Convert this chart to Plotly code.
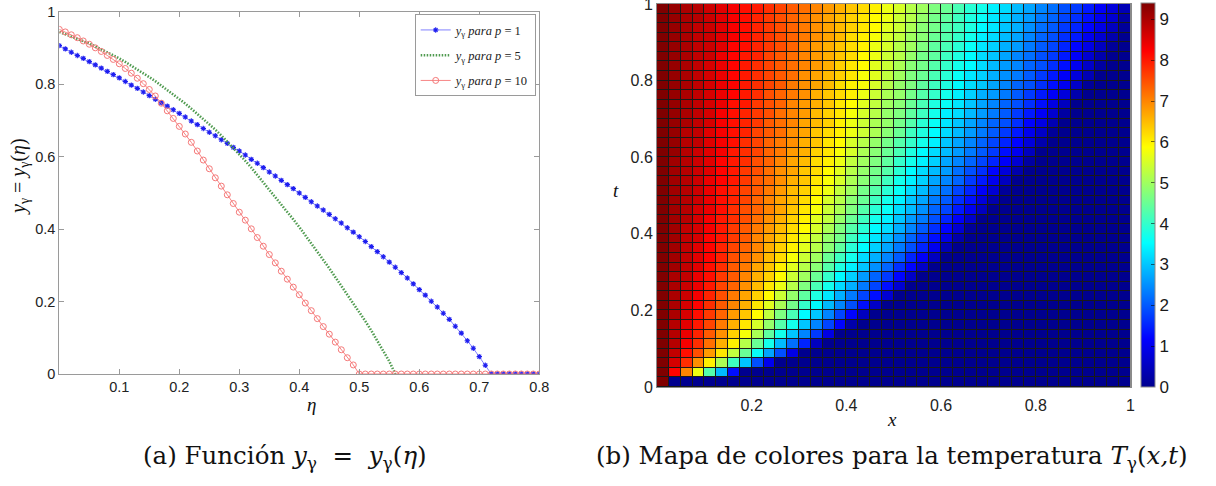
import plotly.graph_objects as go

# ---------------- data: panel (a) ----------------
eta = [0.00, 0.01, 0.02, 0.03, 0.04, 0.05, 0.06, 0.07, 0.08, 0.09,
       0.10, 0.11, 0.12, 0.13, 0.14, 0.15, 0.16, 0.17, 0.18, 0.19,
       0.20, 0.21, 0.22, 0.23, 0.24, 0.25, 0.26, 0.27, 0.28, 0.29,
       0.30, 0.31, 0.32, 0.33, 0.34, 0.35, 0.36, 0.37, 0.38, 0.39,
       0.40, 0.41, 0.42, 0.43, 0.44, 0.45, 0.46, 0.47, 0.48, 0.49,
       0.50, 0.51, 0.52, 0.53, 0.54, 0.55, 0.56, 0.57, 0.58, 0.59,
       0.60, 0.61, 0.62, 0.63, 0.64, 0.65, 0.66, 0.67, 0.68, 0.69,
       0.70, 0.71, 0.72, 0.73, 0.74, 0.75, 0.76, 0.77, 0.78, 0.79, 0.80]

y_p1 = [0.907, 0.898, 0.889, 0.880, 0.872, 0.863, 0.854, 0.845, 0.836, 0.827,
        0.818, 0.808, 0.798, 0.789, 0.779, 0.769, 0.759, 0.749, 0.740, 0.730,
        0.720, 0.710, 0.699, 0.689, 0.678, 0.668, 0.658, 0.647, 0.637, 0.626,
        0.616, 0.605, 0.593, 0.582, 0.570, 0.558, 0.547, 0.535, 0.523, 0.512,
        0.500, 0.488, 0.476, 0.464, 0.453, 0.441, 0.429, 0.417, 0.404, 0.392,
        0.379, 0.366, 0.352, 0.338, 0.324, 0.309, 0.295, 0.280, 0.265, 0.249,
        0.233, 0.218, 0.201, 0.185, 0.168, 0.151, 0.132, 0.113, 0.092, 0.071,
        0.048, 0.024, 0, 0, 0, 0, 0, 0, 0, 0, 0]

y_p5 = [0.945, 0.939, 0.933, 0.927, 0.920, 0.913, 0.905, 0.897, 0.889, 0.881,
        0.872, 0.862, 0.852, 0.842, 0.831, 0.820, 0.809, 0.797, 0.785, 0.773,
        0.760, 0.747, 0.733, 0.719, 0.705, 0.690, 0.675, 0.659, 0.642, 0.625,
        0.608, 0.589, 0.570, 0.550, 0.530, 0.510, 0.490, 0.469, 0.448, 0.427,
        0.406, 0.384, 0.361, 0.338, 0.315, 0.292, 0.268, 0.244, 0.220, 0.196,
        0.172, 0.146, 0.120, 0.092, 0.064, 0.035, 0]

y_p10 = [0.952, 0.945, 0.937, 0.929, 0.920, 0.911, 0.901, 0.891, 0.880, 0.869,
         0.857, 0.844, 0.831, 0.817, 0.802, 0.786, 0.768, 0.748, 0.727, 0.706,
         0.684, 0.663, 0.640, 0.616, 0.591, 0.567, 0.542, 0.519, 0.495, 0.471,
         0.447, 0.425, 0.401, 0.377, 0.353, 0.330, 0.307, 0.284, 0.262, 0.240,
         0.219, 0.196, 0.175, 0.153, 0.131, 0.110, 0.088, 0.067, 0.045, 0.025,
         0, 0, 0, 0, 0, 0, 0, 0, 0, 0,
         0, 0, 0, 0, 0, 0, 0, 0, 0, 0,
         0, 0, 0, 0, 0, 0, 0, 0, 0, 0, 0]

series_names = ["<i>y</i><sub>γ</sub> <i>para p</i> = 1",
                "<i>y</i><sub>γ</sub> <i>para p</i> = 5",
                "<i>y</i><sub>γ</sub> <i>para p</i> = 10"]

xticks_a = [0.1, 0.2, 0.3, 0.4, 0.5, 0.6, 0.7, 0.8]
yticks_a = [0, 0.2, 0.4, 0.6, 0.8, 1]

# ---------------- data: panel (b) ----------------
# temperature per grid row (t from bottom), columns x from left; cells not listed are 0
T_rows = [
    [9.4],
    [9.4, 8.2, 7.0, 5.7, 4.3, 2.9, 1.3],
    [9.4, 8.6, 7.8, 6.9, 6.0, 5.1, 4.1, 3.0, 1.9, 1.0],
    [9.4, 8.8, 8.1, 7.5, 6.8, 6.1, 5.3, 4.5, 3.6, 2.7, 1.9, 0.9],
    [9.4, 8.9, 8.3, 7.8, 7.2, 6.6, 6.0, 5.2, 4.5, 3.7, 2.9, 2.2, 1.5, 0.5],
    [9.4, 8.9, 8.4, 7.9, 7.4, 6.9, 6.3, 5.8, 5.1, 4.4, 3.7, 3.0, 2.4, 1.7, 0.9],
    [9.4, 8.9, 8.5, 8.0, 7.6, 7.1, 6.6, 6.1, 5.5, 4.9, 4.3, 3.7, 3.0, 2.4, 1.8, 1.2, 0.3],
    [9.4, 9.0, 8.6, 8.1, 7.7, 7.3, 6.8, 6.4, 5.9, 5.3, 4.7, 4.2, 3.5, 3.0, 2.4, 1.8, 1.2, 0.5],
    [9.4, 9.0, 8.6, 8.2, 7.8, 7.4, 7.0, 6.6, 6.1, 5.6, 5.1, 4.6, 4.0, 3.5, 2.9, 2.4, 1.9, 1.3, 0.6],
    [9.4, 9.0, 8.7, 8.3, 7.9, 7.5, 7.1, 6.7, 6.3, 5.9, 5.4, 4.9, 4.4, 3.8, 3.3, 2.8, 2.3, 1.8, 1.3, 0.7],
    [9.4, 9.0, 8.7, 8.4, 8.0, 7.6, 7.3, 6.9, 6.5, 6.1, 5.7, 5.2, 4.7, 4.2, 3.7, 3.2, 2.8, 2.3, 1.8, 1.3, 0.7],
    [9.4, 9.0, 8.8, 8.4, 8.1, 7.7, 7.4, 7.0, 6.6, 6.3, 5.9, 5.4, 5.0, 4.5, 4.0, 3.5, 3.1, 2.6, 2.1, 1.7, 1.2, 0.6],
    [9.4, 9.1, 8.8, 8.5, 8.1, 7.8, 7.4, 7.1, 6.7, 6.4, 6.0, 5.6, 5.2, 4.8, 4.3, 3.8, 3.4, 3.0, 2.5, 2.1, 1.6, 1.2, 0.6],
    [9.4, 9.1, 8.8, 8.5, 8.2, 7.9, 7.5, 7.2, 6.9, 6.5, 6.2, 5.8, 5.4, 5.0, 4.5, 4.1, 3.7, 3.2, 2.8, 2.4, 2.0, 1.5, 1.1, 0.5],
    [9.4, 9.1, 8.8, 8.5, 8.2, 7.9, 7.6, 7.3, 7.0, 6.6, 6.3, 6.0, 5.6, 5.2, 4.8, 4.4, 3.9, 3.5, 3.1, 2.7, 2.3, 1.9, 1.5, 1.0, 0.4],
    [9.4, 9.1, 8.8, 8.6, 8.2, 8.0, 7.7, 7.4, 7.0, 6.7, 6.4, 6.1, 5.7, 5.3, 4.9, 4.6, 4.1, 3.7, 3.3, 2.9, 2.5, 2.1, 1.7, 1.3, 0.9, 0.3],
    [9.4, 9.1, 8.8, 8.6, 8.3, 8.0, 7.7, 7.4, 7.1, 6.8, 6.5, 6.2, 5.9, 5.5, 5.1, 4.7, 4.3, 3.9, 3.5, 3.2, 2.8, 2.4, 2.0, 1.6, 1.2, 0.7, 0.1],
    [9.4, 9.1, 8.9, 8.6, 8.3, 8.0, 7.8, 7.5, 7.2, 6.9, 6.6, 6.3, 6.0, 5.6, 5.3, 4.9, 4.5, 4.1, 3.7, 3.4, 3.0, 2.6, 2.3, 1.9, 1.5, 1.1, 0.6],
    [9.4, 9.1, 8.9, 8.6, 8.4, 8.1, 7.8, 7.5, 7.3, 7.0, 6.7, 6.4, 6.1, 5.8, 5.4, 5.1, 4.7, 4.3, 3.9, 3.6, 3.2, 2.9, 2.5, 2.1, 1.8, 1.4, 1.0, 0.5],
    [9.4, 9.1, 8.9, 8.7, 8.4, 8.1, 7.9, 7.6, 7.3, 7.0, 6.7, 6.5, 6.2, 5.9, 5.5, 5.2, 4.8, 4.5, 4.1, 3.7, 3.4, 3.0, 2.7, 2.3, 2.0, 1.6, 1.3, 0.8, 0.3],
    [9.4, 9.1, 8.9, 8.7, 8.4, 8.1, 7.9, 7.6, 7.4, 7.1, 6.8, 6.5, 6.3, 6.0, 5.7, 5.3, 5.0, 4.6, 4.3, 3.9, 3.6, 3.2, 2.9, 2.5, 2.2, 1.8, 1.5, 1.1, 0.7, 0.1],
    [9.4, 9.1, 8.9, 8.7, 8.4, 8.2, 8.0, 7.7, 7.4, 7.2, 6.9, 6.6, 6.4, 6.1, 5.8, 5.5, 5.1, 4.8, 4.5, 4.1, 3.7, 3.4, 3.1, 2.7, 2.4, 2.1, 1.7, 1.4, 1.0, 0.5],
    [9.4, 9.1, 8.9, 8.7, 8.5, 8.2, 8.0, 7.7, 7.5, 7.2, 6.9, 6.7, 6.4, 6.2, 5.9, 5.6, 5.2, 4.9, 4.6, 4.3, 3.9, 3.5, 3.2, 2.9, 2.6, 2.2, 1.9, 1.6, 1.2, 0.8, 0.3],
    [9.4, 9.1, 8.9, 8.7, 8.5, 8.2, 8.0, 7.8, 7.5, 7.3, 7.0, 6.7, 6.5, 6.2, 6.0, 5.7, 5.3, 5.0, 4.7, 4.4, 4.0, 3.7, 3.4, 3.1, 2.7, 2.4, 2.1, 1.8, 1.5, 1.1, 0.7, 0.2],
    [9.4, 9.2, 8.9, 8.7, 8.5, 8.3, 8.0, 7.8, 7.6, 7.3, 7.1, 6.8, 6.6, 6.3, 6.1, 5.8, 5.5, 5.1, 4.8, 4.5, 4.2, 3.8, 3.5, 3.2, 2.9, 2.6, 2.3, 2.0, 1.7, 1.3, 1.0, 0.5],
    [9.4, 9.2, 8.9, 8.8, 8.5, 8.3, 8.1, 7.8, 7.6, 7.3, 7.1, 6.9, 6.6, 6.4, 6.1, 5.9, 5.5, 5.2, 4.9, 4.6, 4.3, 4.0, 3.7, 3.4, 3.0, 2.7, 2.4, 2.1, 1.8, 1.5, 1.2, 0.8, 0.3],
    [9.4, 9.2, 8.9, 8.8, 8.5, 8.3, 8.1, 7.9, 7.6, 7.4, 7.2, 6.9, 6.7, 6.4, 6.2, 6.0, 5.7, 5.4, 5.1, 4.8, 4.5, 4.1, 3.8, 3.5, 3.2, 2.9, 2.6, 2.3, 2.0, 1.7, 1.4, 1.0, 0.6, 0.1],
    [9.4, 9.2, 9.0, 8.8, 8.6, 8.3, 8.1, 7.9, 7.7, 7.4, 7.2, 7.0, 6.7, 6.5, 6.3, 6.0, 5.7, 5.4, 5.1, 4.9, 4.6, 4.3, 3.9, 3.6, 3.3, 3.0, 2.7, 2.4, 2.1, 1.9, 1.6, 1.2, 0.9, 0.4],
    [9.4, 9.2, 9.0, 8.8, 8.6, 8.3, 8.1, 7.9, 7.7, 7.5, 7.2, 7.0, 6.8, 6.5, 6.3, 6.1, 5.8, 5.5, 5.2, 4.9, 4.7, 4.4, 4.1, 3.7, 3.4, 3.2, 2.9, 2.6, 2.3, 2.0, 1.7, 1.4, 1.1, 0.7, 0.2],
    [9.4, 9.2, 9.0, 8.8, 8.6, 8.4, 8.1, 8.0, 7.7, 7.5, 7.3, 7.0, 6.8, 6.6, 6.4, 6.1, 5.9, 5.6, 5.3, 5.0, 4.8, 4.5, 4.2, 3.8, 3.6, 3.3, 3.0, 2.7, 2.4, 2.1, 1.9, 1.6, 1.3, 0.9, 0.5],
    [9.4, 9.2, 9.0, 8.8, 8.6, 8.4, 8.2, 8.0, 7.8, 7.5, 7.3, 7.1, 6.9, 6.6, 6.4, 6.2, 6.0, 5.7, 5.4, 5.1, 4.9, 4.6, 4.3, 4.0, 3.7, 3.4, 3.1, 2.8, 2.6, 2.3, 2.0, 1.7, 1.4, 1.1, 0.8, 0.3],
    [9.4, 9.2, 9.0, 8.8, 8.6, 8.4, 8.2, 8.0, 7.8, 7.6, 7.4, 7.1, 6.9, 6.7, 6.5, 6.2, 6.0, 5.8, 5.5, 5.2, 4.9, 4.7, 4.4, 4.1, 3.8, 3.5, 3.2, 3.0, 2.7, 2.4, 2.1, 1.9, 1.6, 1.3, 1.0, 0.6, 0.1],
    [9.4, 9.2, 9.0, 8.8, 8.6, 8.4, 8.2, 8.0, 7.8, 7.6, 7.4, 7.2, 6.9, 6.7, 6.5, 6.3, 6.1, 5.8, 5.6, 5.3, 5.0, 4.7, 4.5, 4.2, 3.9, 3.6, 3.3, 3.1, 2.8, 2.5, 2.3, 2.0, 1.7, 1.4, 1.1, 0.8, 0.4],
    [9.4, 9.2, 9.0, 8.8, 8.6, 8.4, 8.2, 8.0, 7.8, 7.6, 7.4, 7.2, 7.0, 6.8, 6.6, 6.3, 6.1, 5.9, 5.6, 5.4, 5.1, 4.8, 4.6, 4.3, 4.0, 3.7, 3.5, 3.2, 2.9, 2.6, 2.4, 2.1, 1.9, 1.6, 1.3, 1.0, 0.6, 0.2],
    [9.4, 9.2, 9.0, 8.8, 8.7, 8.4, 8.2, 8.0, 7.9, 7.6, 7.4, 7.2, 7.0, 6.8, 6.6, 6.4, 6.2, 5.9, 5.7, 5.4, 5.2, 4.9, 4.6, 4.4, 4.1, 3.8, 3.5, 3.2, 3.0, 2.7, 2.4, 2.2, 1.9, 1.7, 1.4, 1.1, 0.7, 0.3],
    [9.4, 9.2, 9.0, 8.8, 8.7, 8.5, 8.2, 8.1, 7.9, 7.7, 7.5, 7.3, 7.0, 6.8, 6.6, 6.4, 6.2, 6.0, 5.7, 5.5, 5.2, 5.0, 4.7, 4.4, 4.2, 3.9, 3.6, 3.3, 3.1, 2.8, 2.6, 2.3, 2.0, 1.8, 1.5, 1.2, 0.9, 0.5, 0.1],
    [9.4, 9.2, 9.0, 8.8, 8.7, 8.5, 8.3, 8.1, 7.9, 7.7, 7.5, 7.3, 7.1, 6.9, 6.7, 6.5, 6.2, 6.0, 5.8, 5.5, 5.3, 5.0, 4.8, 4.5, 4.3, 4.0, 3.7, 3.4, 3.2, 2.9, 2.7, 2.4, 2.1, 1.9, 1.6, 1.4, 1.0, 0.7, 0.3],
    [9.4, 9.2, 9.0, 8.8, 8.7, 8.5, 8.3, 8.1, 7.9, 7.7, 7.5, 7.3, 7.1, 6.9, 6.7, 6.5, 6.3, 6.1, 5.9, 5.6, 5.4, 5.1, 4.8, 4.6, 4.3, 4.1, 3.8, 3.5, 3.3, 3.0, 2.8, 2.5, 2.2, 2.0, 1.7, 1.5, 1.2, 0.9, 0.5, 0.1],
    [9.4, 9.2, 9.0, 8.9, 8.7, 8.5, 8.3, 8.1, 7.9, 7.7, 7.5, 7.3, 7.1, 6.9, 6.7, 6.5, 6.3, 6.1, 5.9, 5.7, 5.4, 5.2, 4.9, 4.6, 4.4, 4.1, 3.8, 3.6, 3.3, 3.1, 2.8, 2.6, 2.3, 2.1, 1.8, 1.6, 1.3, 1.0, 0.7, 0.2],
    [9.4, 9.2, 9.0, 8.9, 8.7, 8.5, 8.3, 8.1, 8.0, 7.8, 7.6, 7.4, 7.2, 7.0, 6.8, 6.6, 6.4, 6.2, 6.0, 5.7, 5.5, 5.2, 5.0, 4.7, 4.5, 4.2, 3.9, 3.7, 3.4, 3.2, 2.9, 2.7, 2.4, 2.2, 1.9, 1.7, 1.4, 1.1, 0.8, 0.4],
]
N_CELLS = 40
T_grid = [row + [0.0] * (N_CELLS - len(row)) for row in T_rows]

xticks_b = [0.2, 0.4, 0.6, 0.8, 1]
yticks_b = [0, 0.2, 0.4, 0.6, 0.8, 1]
cbar_ticks = [0, 1, 2, 3, 4, 5, 6, 7, 8, 9]

# ---------------- layout helpers ----------------
W, H = 1216, 486
def px(x):
    return x / W
def py(y):
    return 1 - y / H

SANS = "Liberation Sans, Arial, sans-serif"
SERIF = "Liberation Serif, Times New Roman, serif"
CAPTION = "DejaVu Serif, Liberation Serif, serif"

jet = [[0.0, "rgb(0,0,143)"], [0.125, "rgb(0,0,255)"], [0.375, "rgb(0,255,255)"],
       [0.625, "rgb(255,255,0)"], [0.875, "rgb(255,0,0)"], [1.0, "rgb(128,0,0)"]]

fig = go.Figure()

fig.add_trace(go.Scatter(
    x=eta, y=y_p1, mode="lines+markers", name=series_names[0], legendgroup="a",
    line=dict(color="rgba(60,60,255,0.65)", width=1),
    marker=dict(symbol="asterisk-open", size=4.5, color="rgb(30,30,240)",
                line=dict(width=1.1, color="rgb(30,30,240)")),
    xaxis="x", yaxis="y"))
fig.add_trace(go.Scatter(
    x=eta[:len(y_p5)], y=y_p5, mode="lines", name=series_names[1], legendgroup="b",
    line=dict(color="rgb(80,155,80)", width=2.6, dash="1.5px,1.5px"),
    xaxis="x", yaxis="y"))
fig.add_trace(go.Scatter(
    x=eta, y=y_p10, mode="lines+markers", name=series_names[2], legendgroup="c",
    line=dict(color="rgba(245,110,110,0.85)", width=1),
    marker=dict(symbol="circle-open", size=6, color="rgb(245,120,120)",
                line=dict(width=1, color="rgb(245,120,120)")),
    xaxis="x", yaxis="y"))

fig.add_trace(go.Heatmap(
    z=T_grid, x0=0.0125, dx=0.025, y0=0.0125, dy=0.025,
    zmin=0, zmax=9.4, colorscale=jet, xgap=1, ygap=1, showscale=True,
    hoverinfo="skip",
    colorbar=dict(
        x=px(1141), xanchor="left", xpad=0, ypad=0,
        y=py(387), yanchor="bottom", len=(387 - 3) / H, lenmode="fraction",
        thickness=14, thicknessmode="pixels",
        outlinecolor="#8a8a8a", outlinewidth=1,
        tickvals=cbar_ticks, ticks="inside", ticklen=4,
        tickcolor="rgba(0,0,0,0.55)",
        tickfont=dict(family=SANS, size=17, color="#1a1a1a")),
    xaxis="x2", yaxis="y2"))

axis_common = dict(showgrid=False, zeroline=False, showline=True, linecolor="#9a9a9a",
                   linewidth=1, mirror="allticks", ticks="inside", ticklen=5,
                   tickcolor="#9a9a9a", automargin=False)

fig.update_layout(
    width=W, height=H, margin=dict(l=0, r=0, t=0, b=0, autoexpand=False),
    paper_bgcolor="white", plot_bgcolor="white",
    showlegend=True,
    xaxis=dict(domain=[px(59.3), px(539.3)], range=[0, 0.8], anchor="y",
               tickvals=xticks_a, ticktext=[str(v) for v in xticks_a],
               tickfont=dict(family=SANS, size=14.5, color="#222"), **axis_common),
    yaxis=dict(domain=[py(374), py(12)], range=[0, 1], anchor="x",
               tickvals=yticks_a, ticktext=["0", "0.2", "0.4", "0.6", "0.8", "1"],
               tickfont=dict(family=SANS, size=14.5, color="#222"), **axis_common),
    xaxis2=dict(domain=[px(657), px(1130.5)], range=[0, 1], anchor="y2",
                tickvals=xticks_b, ticktext=["0.2", "0.4", "0.6", "0.8", "1"],
                tickfont=dict(family=SANS, size=16, color="#222"),
                showgrid=False, zeroline=False, showline=True, linecolor="#8a8a8a",
                mirror=True, ticks="", ticklabelstandoff=4, automargin=False,
                ticklabeloverflow="allow"),
    yaxis2=dict(domain=[py(387), py(4)], range=[0, 1], anchor="x2",
                tickvals=yticks_b, ticktext=["0", "0.2", "0.4", "0.6", "0.8", "1"],
                tickfont=dict(family=SANS, size=16, color="#222"),
                showgrid=False, zeroline=False, showline=True, linecolor="#8a8a8a",
                mirror=True, ticks="", automargin=False, ticklabeloverflow="allow"),
    legend=dict(x=px(535.7), xanchor="right", y=py(14.3), yanchor="top",
                bgcolor="white", bordercolor="#9a9a9a", borderwidth=1,
                font=dict(family=SERIF, size=12.5, color="#222"),
                tracegroupgap=6, itemwidth=30),
)
# cell edges of the colour map: dark background behind gaps
fig.add_shape(type="rect", xref="x2 domain", yref="y2 domain", x0=0, x1=1, y0=0, y1=1,
              fillcolor="rgb(25,25,25)", line=dict(width=0), layer="below")

ann = [
    dict(text="<i>y</i><sub>γ</sub> = <i>y</i><sub>γ</sub>(<i>η</i>)", x=px(19), y=py(177),
         textangle=-90, font=dict(family=SERIF, size=20, color="#111")),
    dict(text="<i>η</i>", x=px(311), y=py(404), font=dict(family=SERIF, size=19, color="#111")),
    dict(text="<i>t</i>", x=px(616), y=py(190), font=dict(family=SERIF, size=19, color="#111")),
    dict(text="<i>x</i>", x=px(892), y=py(419), font=dict(family=SERIF, size=19, color="#111")),
    dict(text="(a) Función <i>y</i><sub>γ</sub>&nbsp;&nbsp;=&nbsp;&nbsp;<i>y</i><sub>γ</sub>(<i>η</i>)",
         x=px(285), y=py(457), font=dict(family=CAPTION, size=24.5, color="#111")),
    dict(text="(b) Mapa de colores para la temperatura <i>T</i><sub>γ</sub>(<i>x,t</i>)",
         x=px(892), y=py(457), font=dict(family=CAPTION, size=24.5, color="#111")),
]
for a in ann:
    a.update(xref="paper", yref="paper", showarrow=False, xanchor="center", yanchor="middle")
fig.update_layout(annotations=ann)

fig.write_html("out.html",
               config={"displayModeBar": False},
               post_script="document.documentElement.style.margin='0';"
                           "document.body.style.margin='0';"
                           "document.body.style.padding='0';"
                           "document.body.style.overflow='hidden';")
